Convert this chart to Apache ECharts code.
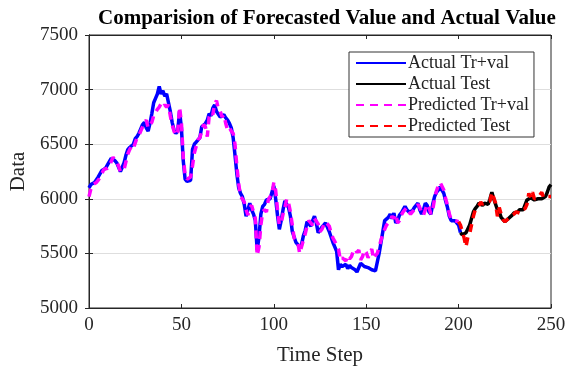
<!DOCTYPE html>
<html>
<head>
<meta charset="utf-8">
<script src="https://cdn.jsdelivr.net/npm/echarts@6/dist/echarts.min.js"></script>
<style>html,body{margin:0;padding:0;background:#fff}#c{width:574px;height:368px}</style>
</head>
<body>
<div id="c"></div>
<script>
const titleText = 'Comparision of Forecasted Value and Actual Value';
const xName = 'Time Step';
const yName = 'Data';
const seriesNames = ['Actual Tr+val', 'Actual Test', 'Predicted Tr+val', 'Predicted Test'];
const xTicks = [0, 50, 100, 150, 200, 250];
const yTicks = [5000, 5500, 6000, 6500, 7000, 7500];

const actualTrainStart = 0;
const actualTrainVal = [
6100,6130,6140,6150,6160,6200,6230,6260,6250,6280,
6290,6340,6370,6360,6350,6330,6290,6250,6260,6330,
6400,6450,6470,6460,6500,6550,6570,6600,6640,6680,
6700,6650,6620,6690,6780,6880,6920,6960,7030,6960,
6990,6940,6960,6880,6800,6700,6630,6600,6620,6800,
6650,6350,6180,6160,6150,6170,6450,6500,6520,6540,
6560,6660,6650,6690,6720,6780,6760,6830,6860,6800,
6790,6750,6760,6770,6740,6720,6690,6650,6560,6400,
6230,6100,6050,6020,5950,5840,5900,5960,5900,5860,
5800,5530,5650,5860,5930,5950,5990,6000,6000,6060,
6120,6000,5850,5720,5800,5900,5980,5990,5920,5840,
5700,5650,5600,5580,5560,5580,5660,5710,5790,5780,
5750,5800,5840,5780,5690,5700,5740,5760,5780,5770,
5700,5650,5600,5560,5520,5350,5400,5380,5370,5400,
5360,5390,5370,5380,5350,5330,5340,5410,5400,5380,
5390,5370,5380,5350,5360,5340,5420,5500,5600,5700,
5800,5810,5830,5860,5820,5870,5780,5800,5850,5870,
5900,5930,5900,5880,5870,5890,5920,5940,5960,5900,
5860,5900,5960,5940,5880,5860,5950,6020,6060,6080,
6110,6080,6050,5980,5920,5840,5800,5790,5800,5790,
5760,5690
];
const actualTestStart = 201;
const actualTest = [
5690,5670,5660,5690,5700,5760,5820,5880,5910,
5930,5960,5950,5940,5960,5960,5950,6000,6060,6000,
5950,5900,5880,5830,5820,5790,5800,5820,5830,5850,
5870,5870,5880,5900,5890,5900,5910,5990,6000,6010,
6000,5990,5990,6000,6000,6000,6010,6020,6060,6110,
6130
];
const predTrainStart = 0;
const predTrainVal = [
6020,6090,6130,6140,6150,6170,6200,6230,6270,6260,
6280,6300,6340,6380,6360,6340,6300,6250,6240,6270,
6340,6410,6450,6480,6460,6510,6560,6580,6620,6660,
6700,6720,6650,6640,6700,6760,6790,6820,6840,6870,
6840,6860,6840,6860,6760,6680,6620,6580,6610,6840,
6700,6380,6220,6180,6170,6200,6300,6420,6480,6540,
6560,6570,6680,6660,6570,6750,6790,6770,6870,6900,
6820,6800,6750,6770,6690,6630,6650,6620,6600,6500,
6300,6140,6020,6000,5970,5900,5850,5920,5940,5880,
5820,5480,5560,5760,5880,5900,5880,5990,6020,6040,
6150,6080,5900,5760,5780,5860,5920,6000,5960,5880,
5760,5640,5620,5600,5500,5560,5620,5680,5750,5800,
5780,5760,5820,5830,5770,5700,5720,5760,5790,5790,
5750,5690,5640,5610,5600,5540,5440,5460,5450,5430,
5480,5450,5470,5520,5540,5510,5530,5440,5470,5530,
5510,5460,5500,5540,5450,5480,5500,5560,5620,5680,
5720,5760,5780,5800,5840,5820,5860,5780,5800,5850,
5880,5900,5920,5880,5860,5880,5900,5920,5950,5920,
5870,5850,5900,5950,5920,5860,5900,6000,6070,6120,
6150,6150,6080,6000,5940,5860,5810,5800,5800,5790,
5790
];
const predTestStart = 200;
const predTest = [
5790,5760,5700,5640,5560,5650,5680,5760,5840,5900,
5920,5940,5970,5950,5940,5970,5960,5980,6060,6070,
5960,5840,5920,5860,5810,5790,5780,5820,5840,5830,
5860,5880,5880,5870,5900,5890,5910,5950,6050,6010,
6060,6000,5990,6010,6000,6060,6010,6020,6020,6030,
6020
];

function toPairs(start, arr) { return arr.map((v, i) => [start + i, v]); }

const serif = 'Liberation Serif, Times New Roman, serif';
const chart = echarts.init(document.getElementById('c'), null, {renderer: 'canvas'});
const dash = [8, 6];
chart.setOption({
  animation: false,
  backgroundColor: '#ffffff',
  title: {
    text: titleText, left: 93, top: 3,
    textStyle: {fontFamily: serif, fontWeight: 'bold', fontSize: 21, color: '#000'}
  },
  grid: {left: 89, right: 23, top: 35, bottom: 60, containLabel: false, outerBoundsMode: 'none',
    show: true, borderColor: '#262626', borderWidth: 1, backgroundColor: 'transparent'},
  legend: {
    orient: 'vertical', left: 349, top: 52,
    itemWidth: 50, itemHeight: 12, itemGap: 3,
    padding: [2, 5, 2, 6],
    backgroundColor: '#fff', borderColor: '#333', borderWidth: 1,
    itemStyle: {opacity: 0},
    textStyle: {fontFamily: serif, fontSize: 18, color: '#222', padding: [0, 0, 0, -3]},
    data: seriesNames.map(n => ({name: n}))
  },
  xAxis: [{
    type: 'value', min: 0, max: 250, interval: 50,
    name: xName, nameLocation: 'middle', nameGap: 37,
    nameTextStyle: {fontFamily: serif, fontSize: 21, color: '#262626'},
    axisLine: {show: true, lineStyle: {color: '#262626'}},
    axisTick: {show: true, inside: true, length: 4, lineStyle: {color: '#262626'}},
    axisLabel: {fontFamily: serif, fontSize: 19, color: '#262626', margin: 8,
      formatter: v => xTicks.includes(v) ? String(v) : ''},
    splitLine: {show: false}
  }, {
    type: 'value', min: 0, max: 250, interval: 50, position: 'top',
    axisLine: {show: true, lineStyle: {color: '#262626'}},
    axisTick: {show: true, inside: true, length: 4, lineStyle: {color: '#262626'}},
    axisLabel: {show: false}, splitLine: {show: false}
  }],
  yAxis: [{
    type: 'value', min: 5000, max: 7500, interval: 500,
    name: yName, nameLocation: 'middle', nameGap: 54,
    nameTextStyle: {fontFamily: serif, fontSize: 21, color: '#262626'},
    axisLine: {show: true, lineStyle: {color: '#262626'}},
    axisTick: {show: true, inside: true, length: 4, lineStyle: {color: '#262626'}},
    axisLabel: {fontFamily: serif, fontSize: 19, color: '#262626', margin: 11,
      formatter: v => yTicks.includes(v) ? String(v) : ''},
    splitLine: {show: true, lineStyle: {color: '#dedede', width: 1}}
  }, {
    type: 'value', min: 5000, max: 7500, interval: 500, position: 'right',
    axisLine: {show: true, lineStyle: {color: '#262626'}},
    axisTick: {show: true, inside: true, length: 4, lineStyle: {color: '#262626'}},
    axisLabel: {show: false}, splitLine: {show: false}
  }],
  series: [
    {name: seriesNames[0], type: 'line', symbol: 'none', data: toPairs(actualTrainStart, actualTrainVal),
     lineStyle: {color: '#0000ff', width: 3.5}, itemStyle: {color: '#0000ff'}},
    {name: seriesNames[1], type: 'line', symbol: 'none', data: toPairs(actualTestStart, actualTest),
     lineStyle: {color: '#000000', width: 3.5}, itemStyle: {color: '#000000'}},
    {name: seriesNames[2], type: 'line', symbol: 'none', data: toPairs(predTrainStart, predTrainVal),
     lineStyle: {color: '#ff00ff', width: 3.5, type: dash}, itemStyle: {color: '#ff00ff'}},
    {name: seriesNames[3], type: 'line', symbol: 'none', data: toPairs(predTestStart, predTest),
     lineStyle: {color: '#ff0000', width: 3.5, type: dash}, itemStyle: {color: '#ff0000'}}
  ]
});
</script>
</body>
</html>
